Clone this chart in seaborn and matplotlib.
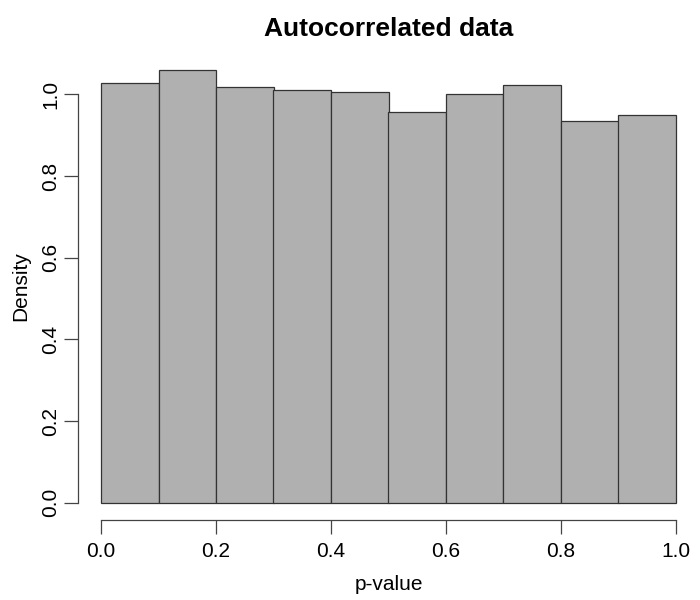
import numpy as np
import pandas as pd
import seaborn as sns
import matplotlib.pyplot as plt

# histogram of p-values, densities
bin_edges = [0.0, 0.1, 0.2, 0.3, 0.4, 0.5, 0.6, 0.7, 0.8, 0.9, 1.0]
density = [1.029, 1.059, 1.017, 1.011, 1.005, 0.957, 1.000, 1.022, 0.935, 0.949]
x_ticks = [0.0, 0.2, 0.4, 0.6, 0.8, 1.0]
y_ticks = [0.0, 0.2, 0.4, 0.6, 0.8, 1.0]

sns.set_style("white")
plt.rcParams['font.family'] = ['Liberation Sans', 'DejaVu Sans']
plt.rcParams['text.color'] = 'black'
plt.rcParams['axes.labelcolor'] = 'black'
plt.rcParams['xtick.color'] = 'black'
plt.rcParams['ytick.color'] = 'black'

mids = [(bin_edges[i] + bin_edges[i + 1]) / 2 for i in range(len(density))]
df = pd.DataFrame({'p': mids, 'w': density})

fig = plt.figure(figsize=(7, 6), dpi=100)
ax = fig.add_axes([78 / 700, 80 / 600, 621 / 700, 467 / 600])

sns.histplot(data=df, x='p', weights='w', bins=bin_edges, stat='count',
             color='#b0b0b0', edgecolor='#333333', linewidth=0.9,
             alpha=1.0, ax=ax)

ymax = max(density)
ax.set_xlim(-0.04, 1.04)
ax.set_ylim(-0.04 * ymax, 1.04 * ymax)

for s in ['top', 'right']:
    ax.spines[s].set_visible(False)
ax.spines['bottom'].set_bounds(0, 1)
ax.spines['left'].set_bounds(0, 1.0)
for s in ['bottom', 'left']:
    ax.spines[s].set_color('#444444')
    ax.spines[s].set_linewidth(0.9)

ax.set_xticks(x_ticks)
ax.set_xticklabels(["{:.1f}".format(v) for v in x_ticks])
ax.set_yticks(y_ticks)
ax.set_yticklabels(["{:.1f}".format(v) for v in y_ticks], rotation=90, va='center')
ax.tick_params(axis='both', direction='out', length=10, width=0.9,
               color='#444444', labelcolor='black', labelsize=15)
ax.tick_params(axis='x', pad=6)
ax.tick_params(axis='y', pad=3)
ax.tick_params(axis='both', which='both', bottom=True, left=True)

ax.set_xlabel('p-value', fontsize=15, labelpad=10)
ax.set_ylabel('Density', fontsize=15, labelpad=8)
ax.set_title('Autocorrelated data', fontsize=19, fontweight='bold', pad=12)

fig.savefig('out.png', dpi=100)
